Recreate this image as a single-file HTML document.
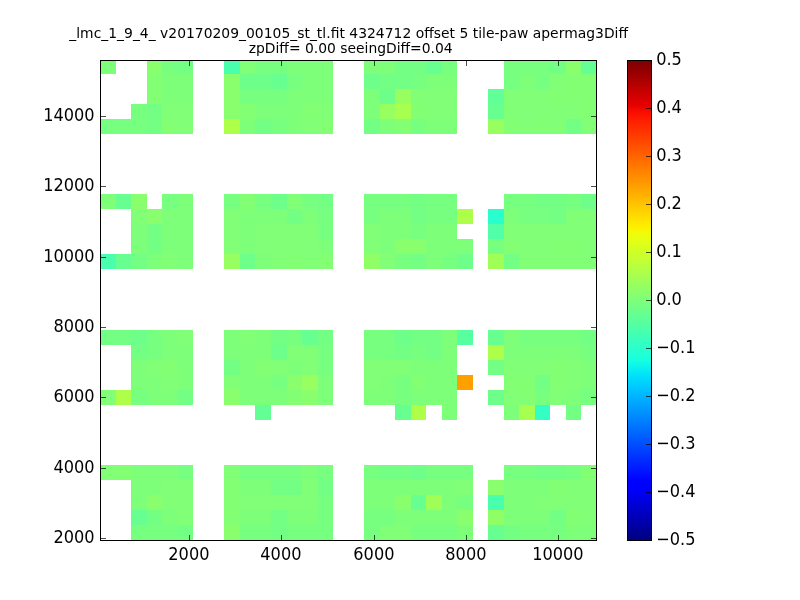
<!DOCTYPE html>
<html><head><meta charset="utf-8"><title>plot</title>
<style>html,body{margin:0;padding:0;background:#fff;}svg{display:block;}svg{will-change:transform;}text{font-family:"DejaVu Sans","Liberation Sans",sans-serif;fill:#000;}</style></head><body>
<svg width="800" height="600" viewBox="0 0 800 600">
<rect x="0" y="0" width="800" height="600" fill="#fff"/>
<g shape-rendering="crispEdges">
<rect x="100.50" y="60.50" width="15.50" height="13.50" fill="#7dff7a"/>
<rect x="147.00" y="60.50" width="15.00" height="13.50" fill="#8aff6d"/>
<rect x="162.00" y="60.50" width="16.00" height="13.50" fill="#77ff80"/>
<rect x="178.00" y="60.50" width="15.00" height="13.50" fill="#73ff83"/>
<rect x="224.00" y="60.50" width="16.00" height="13.50" fill="#49ffad"/>
<rect x="240.00" y="60.50" width="15.00" height="13.50" fill="#80ff77"/>
<rect x="255.00" y="60.50" width="32.00" height="13.50" fill="#77ff80"/>
<rect x="287.00" y="60.50" width="46.00" height="13.50" fill="#7dff7a"/>
<rect x="364.00" y="60.50" width="31.00" height="13.50" fill="#7dff7a"/>
<rect x="395.00" y="60.50" width="31.00" height="13.50" fill="#73ff83"/>
<rect x="426.00" y="60.50" width="16.00" height="13.50" fill="#66ff90"/>
<rect x="442.00" y="60.50" width="15.00" height="13.50" fill="#77ff80"/>
<rect x="504.00" y="60.50" width="46.00" height="13.50" fill="#77ff80"/>
<rect x="550.00" y="60.50" width="16.00" height="13.50" fill="#73ff83"/>
<rect x="566.00" y="60.50" width="15.00" height="13.50" fill="#8aff6d"/>
<rect x="581.00" y="60.50" width="15.50" height="13.50" fill="#63ff94"/>
<rect x="147.00" y="74.00" width="15.00" height="15.00" fill="#83ff73"/>
<rect x="162.00" y="74.00" width="31.00" height="15.00" fill="#7dff7a"/>
<rect x="224.00" y="74.00" width="16.00" height="15.00" fill="#8aff6d"/>
<rect x="240.00" y="74.00" width="31.00" height="15.00" fill="#6dff8a"/>
<rect x="271.00" y="74.00" width="16.00" height="15.00" fill="#66ff90"/>
<rect x="287.00" y="74.00" width="15.00" height="15.00" fill="#77ff80"/>
<rect x="302.00" y="74.00" width="31.00" height="15.00" fill="#7dff7a"/>
<rect x="364.00" y="74.00" width="16.00" height="15.00" fill="#6dff8a"/>
<rect x="380.00" y="74.00" width="31.00" height="15.00" fill="#73ff83"/>
<rect x="411.00" y="74.00" width="15.00" height="15.00" fill="#77ff80"/>
<rect x="426.00" y="74.00" width="31.00" height="15.00" fill="#7dff7a"/>
<rect x="504.00" y="74.00" width="15.00" height="15.00" fill="#77ff80"/>
<rect x="519.00" y="74.00" width="16.00" height="15.00" fill="#7dff7a"/>
<rect x="535.00" y="74.00" width="15.00" height="15.00" fill="#77ff80"/>
<rect x="550.00" y="74.00" width="16.00" height="15.00" fill="#80ff77"/>
<rect x="566.00" y="74.00" width="30.50" height="15.00" fill="#83ff73"/>
<rect x="147.00" y="89.00" width="15.00" height="15.00" fill="#83ff73"/>
<rect x="162.00" y="89.00" width="31.00" height="15.00" fill="#7dff7a"/>
<rect x="224.00" y="89.00" width="16.00" height="15.00" fill="#8aff6d"/>
<rect x="240.00" y="89.00" width="47.00" height="15.00" fill="#77ff80"/>
<rect x="287.00" y="89.00" width="46.00" height="15.00" fill="#7dff7a"/>
<rect x="364.00" y="89.00" width="16.00" height="15.00" fill="#7dff7a"/>
<rect x="380.00" y="89.00" width="15.00" height="15.00" fill="#6dff8a"/>
<rect x="395.00" y="89.00" width="16.00" height="15.00" fill="#97ff60"/>
<rect x="411.00" y="89.00" width="46.00" height="15.00" fill="#80ff77"/>
<rect x="488.00" y="89.00" width="16.00" height="15.00" fill="#60ff97"/>
<rect x="504.00" y="89.00" width="46.00" height="15.00" fill="#80ff77"/>
<rect x="550.00" y="89.00" width="46.50" height="15.00" fill="#83ff73"/>
<rect x="131.00" y="104.00" width="16.00" height="15.00" fill="#77ff80"/>
<rect x="147.00" y="104.00" width="15.00" height="15.00" fill="#73ff83"/>
<rect x="162.00" y="104.00" width="31.00" height="15.00" fill="#80ff77"/>
<rect x="224.00" y="104.00" width="16.00" height="15.00" fill="#8aff6d"/>
<rect x="240.00" y="104.00" width="15.00" height="15.00" fill="#83ff73"/>
<rect x="255.00" y="104.00" width="47.00" height="15.00" fill="#7dff7a"/>
<rect x="302.00" y="104.00" width="16.00" height="15.00" fill="#83ff73"/>
<rect x="318.00" y="104.00" width="15.00" height="15.00" fill="#80ff77"/>
<rect x="364.00" y="104.00" width="16.00" height="15.00" fill="#7dff7a"/>
<rect x="380.00" y="104.00" width="15.00" height="15.00" fill="#97ff60"/>
<rect x="395.00" y="104.00" width="16.00" height="15.00" fill="#a7ff50"/>
<rect x="411.00" y="104.00" width="15.00" height="15.00" fill="#83ff73"/>
<rect x="426.00" y="104.00" width="31.00" height="15.00" fill="#80ff77"/>
<rect x="488.00" y="104.00" width="16.00" height="15.00" fill="#66ff90"/>
<rect x="504.00" y="104.00" width="77.00" height="15.00" fill="#80ff77"/>
<rect x="581.00" y="104.00" width="15.50" height="15.00" fill="#83ff73"/>
<rect x="100.50" y="119.00" width="46.50" height="15.00" fill="#77ff80"/>
<rect x="147.00" y="119.00" width="15.00" height="15.00" fill="#73ff83"/>
<rect x="162.00" y="119.00" width="16.00" height="15.00" fill="#83ff73"/>
<rect x="178.00" y="119.00" width="15.00" height="15.00" fill="#80ff77"/>
<rect x="224.00" y="119.00" width="16.00" height="15.00" fill="#adff49"/>
<rect x="240.00" y="119.00" width="15.00" height="15.00" fill="#7dff7a"/>
<rect x="255.00" y="119.00" width="16.00" height="15.00" fill="#73ff83"/>
<rect x="271.00" y="119.00" width="16.00" height="15.00" fill="#77ff80"/>
<rect x="287.00" y="119.00" width="15.00" height="15.00" fill="#7dff7a"/>
<rect x="302.00" y="119.00" width="16.00" height="15.00" fill="#80ff77"/>
<rect x="318.00" y="119.00" width="15.00" height="15.00" fill="#83ff73"/>
<rect x="364.00" y="119.00" width="16.00" height="15.00" fill="#73ff83"/>
<rect x="380.00" y="119.00" width="15.00" height="15.00" fill="#7dff7a"/>
<rect x="395.00" y="119.00" width="16.00" height="15.00" fill="#83ff73"/>
<rect x="411.00" y="119.00" width="15.00" height="15.00" fill="#77ff80"/>
<rect x="426.00" y="119.00" width="31.00" height="15.00" fill="#7dff7a"/>
<rect x="488.00" y="119.00" width="16.00" height="15.00" fill="#97ff60"/>
<rect x="504.00" y="119.00" width="15.00" height="15.00" fill="#83ff73"/>
<rect x="519.00" y="119.00" width="16.00" height="15.00" fill="#80ff77"/>
<rect x="535.00" y="119.00" width="15.00" height="15.00" fill="#83ff73"/>
<rect x="550.00" y="119.00" width="16.00" height="15.00" fill="#80ff77"/>
<rect x="566.00" y="119.00" width="15.00" height="15.00" fill="#73ff83"/>
<rect x="581.00" y="119.00" width="15.50" height="15.00" fill="#80ff77"/>
<rect x="100.50" y="194.00" width="15.50" height="15.00" fill="#7dff7a"/>
<rect x="116.00" y="194.00" width="15.00" height="15.00" fill="#66ff90"/>
<rect x="131.00" y="194.00" width="16.00" height="15.00" fill="#8aff6d"/>
<rect x="162.00" y="194.00" width="16.00" height="15.00" fill="#77ff80"/>
<rect x="178.00" y="194.00" width="15.00" height="15.00" fill="#7dff7a"/>
<rect x="224.00" y="194.00" width="16.00" height="15.00" fill="#77ff80"/>
<rect x="240.00" y="194.00" width="15.00" height="15.00" fill="#83ff73"/>
<rect x="255.00" y="194.00" width="16.00" height="15.00" fill="#77ff80"/>
<rect x="271.00" y="194.00" width="16.00" height="15.00" fill="#6dff8a"/>
<rect x="287.00" y="194.00" width="15.00" height="15.00" fill="#80ff77"/>
<rect x="302.00" y="194.00" width="16.00" height="15.00" fill="#77ff80"/>
<rect x="318.00" y="194.00" width="15.00" height="15.00" fill="#73ff83"/>
<rect x="364.00" y="194.00" width="47.00" height="15.00" fill="#77ff80"/>
<rect x="411.00" y="194.00" width="15.00" height="15.00" fill="#73ff83"/>
<rect x="426.00" y="194.00" width="31.00" height="15.00" fill="#77ff80"/>
<rect x="504.00" y="194.00" width="31.00" height="15.00" fill="#77ff80"/>
<rect x="535.00" y="194.00" width="31.00" height="15.00" fill="#73ff83"/>
<rect x="566.00" y="194.00" width="15.00" height="15.00" fill="#77ff80"/>
<rect x="581.00" y="194.00" width="15.50" height="15.00" fill="#6dff8a"/>
<rect x="131.00" y="209.00" width="16.00" height="15.00" fill="#80ff77"/>
<rect x="147.00" y="209.00" width="15.00" height="15.00" fill="#8aff6d"/>
<rect x="162.00" y="209.00" width="31.00" height="15.00" fill="#7dff7a"/>
<rect x="224.00" y="209.00" width="16.00" height="15.00" fill="#80ff77"/>
<rect x="240.00" y="209.00" width="47.00" height="15.00" fill="#7dff7a"/>
<rect x="287.00" y="209.00" width="15.00" height="15.00" fill="#73ff83"/>
<rect x="302.00" y="209.00" width="16.00" height="15.00" fill="#7dff7a"/>
<rect x="318.00" y="209.00" width="15.00" height="15.00" fill="#77ff80"/>
<rect x="364.00" y="209.00" width="16.00" height="15.00" fill="#77ff80"/>
<rect x="380.00" y="209.00" width="31.00" height="15.00" fill="#7dff7a"/>
<rect x="411.00" y="209.00" width="15.00" height="15.00" fill="#73ff83"/>
<rect x="426.00" y="209.00" width="31.00" height="15.00" fill="#77ff80"/>
<rect x="457.00" y="209.00" width="16.00" height="15.00" fill="#adff49"/>
<rect x="488.00" y="209.00" width="16.00" height="15.00" fill="#29ffce"/>
<rect x="504.00" y="209.00" width="15.00" height="15.00" fill="#7dff7a"/>
<rect x="519.00" y="209.00" width="31.00" height="15.00" fill="#77ff80"/>
<rect x="550.00" y="209.00" width="16.00" height="15.00" fill="#73ff83"/>
<rect x="566.00" y="209.00" width="30.50" height="15.00" fill="#80ff77"/>
<rect x="131.00" y="224.00" width="16.00" height="15.00" fill="#7dff7a"/>
<rect x="147.00" y="224.00" width="15.00" height="15.00" fill="#73ff83"/>
<rect x="162.00" y="224.00" width="31.00" height="15.00" fill="#7dff7a"/>
<rect x="224.00" y="224.00" width="16.00" height="15.00" fill="#80ff77"/>
<rect x="240.00" y="224.00" width="15.00" height="15.00" fill="#7dff7a"/>
<rect x="255.00" y="224.00" width="63.00" height="15.00" fill="#80ff77"/>
<rect x="318.00" y="224.00" width="15.00" height="15.00" fill="#77ff80"/>
<rect x="364.00" y="224.00" width="16.00" height="15.00" fill="#80ff77"/>
<rect x="380.00" y="224.00" width="31.00" height="15.00" fill="#7dff7a"/>
<rect x="411.00" y="224.00" width="15.00" height="15.00" fill="#77ff80"/>
<rect x="426.00" y="224.00" width="31.00" height="15.00" fill="#7dff7a"/>
<rect x="488.00" y="224.00" width="16.00" height="15.00" fill="#50ffa7"/>
<rect x="504.00" y="224.00" width="92.50" height="15.00" fill="#80ff77"/>
<rect x="131.00" y="239.00" width="16.00" height="15.00" fill="#7dff7a"/>
<rect x="147.00" y="239.00" width="15.00" height="15.00" fill="#73ff83"/>
<rect x="162.00" y="239.00" width="31.00" height="15.00" fill="#7dff7a"/>
<rect x="224.00" y="239.00" width="16.00" height="15.00" fill="#80ff77"/>
<rect x="240.00" y="239.00" width="15.00" height="15.00" fill="#7dff7a"/>
<rect x="255.00" y="239.00" width="63.00" height="15.00" fill="#80ff77"/>
<rect x="318.00" y="239.00" width="15.00" height="15.00" fill="#7dff7a"/>
<rect x="364.00" y="239.00" width="16.00" height="15.00" fill="#80ff77"/>
<rect x="380.00" y="239.00" width="15.00" height="15.00" fill="#7dff7a"/>
<rect x="395.00" y="239.00" width="31.00" height="15.00" fill="#8aff6d"/>
<rect x="426.00" y="239.00" width="47.00" height="15.00" fill="#7dff7a"/>
<rect x="488.00" y="239.00" width="16.00" height="15.00" fill="#77ff80"/>
<rect x="504.00" y="239.00" width="15.00" height="15.00" fill="#83ff73"/>
<rect x="519.00" y="239.00" width="31.00" height="15.00" fill="#80ff77"/>
<rect x="550.00" y="239.00" width="31.00" height="15.00" fill="#83ff73"/>
<rect x="581.00" y="239.00" width="15.50" height="15.00" fill="#80ff77"/>
<rect x="100.50" y="254.00" width="15.50" height="15.00" fill="#49ffad"/>
<rect x="116.00" y="254.00" width="15.00" height="15.00" fill="#66ff90"/>
<rect x="131.00" y="254.00" width="16.00" height="15.00" fill="#73ff83"/>
<rect x="147.00" y="254.00" width="15.00" height="15.00" fill="#7dff7a"/>
<rect x="162.00" y="254.00" width="16.00" height="15.00" fill="#80ff77"/>
<rect x="178.00" y="254.00" width="15.00" height="15.00" fill="#7dff7a"/>
<rect x="224.00" y="254.00" width="16.00" height="15.00" fill="#97ff60"/>
<rect x="240.00" y="254.00" width="15.00" height="15.00" fill="#6dff8a"/>
<rect x="255.00" y="254.00" width="16.00" height="15.00" fill="#7dff7a"/>
<rect x="271.00" y="254.00" width="16.00" height="15.00" fill="#80ff77"/>
<rect x="287.00" y="254.00" width="15.00" height="15.00" fill="#83ff73"/>
<rect x="302.00" y="254.00" width="16.00" height="15.00" fill="#80ff77"/>
<rect x="318.00" y="254.00" width="15.00" height="15.00" fill="#83ff73"/>
<rect x="364.00" y="254.00" width="16.00" height="15.00" fill="#90ff66"/>
<rect x="380.00" y="254.00" width="15.00" height="15.00" fill="#80ff77"/>
<rect x="395.00" y="254.00" width="16.00" height="15.00" fill="#77ff80"/>
<rect x="411.00" y="254.00" width="15.00" height="15.00" fill="#73ff83"/>
<rect x="426.00" y="254.00" width="16.00" height="15.00" fill="#7dff7a"/>
<rect x="442.00" y="254.00" width="15.00" height="15.00" fill="#77ff80"/>
<rect x="457.00" y="254.00" width="16.00" height="15.00" fill="#6dff8a"/>
<rect x="488.00" y="254.00" width="16.00" height="15.00" fill="#a0ff56"/>
<rect x="504.00" y="254.00" width="15.00" height="15.00" fill="#73ff83"/>
<rect x="519.00" y="254.00" width="77.50" height="15.00" fill="#80ff77"/>
<rect x="100.50" y="330.00" width="30.50" height="15.00" fill="#73ff83"/>
<rect x="131.00" y="330.00" width="16.00" height="15.00" fill="#6dff8a"/>
<rect x="147.00" y="330.00" width="15.00" height="15.00" fill="#77ff80"/>
<rect x="162.00" y="330.00" width="16.00" height="15.00" fill="#7dff7a"/>
<rect x="178.00" y="330.00" width="15.00" height="15.00" fill="#80ff77"/>
<rect x="224.00" y="330.00" width="16.00" height="15.00" fill="#7dff7a"/>
<rect x="240.00" y="330.00" width="15.00" height="15.00" fill="#80ff77"/>
<rect x="255.00" y="330.00" width="16.00" height="15.00" fill="#7dff7a"/>
<rect x="271.00" y="330.00" width="16.00" height="15.00" fill="#73ff83"/>
<rect x="287.00" y="330.00" width="15.00" height="15.00" fill="#77ff80"/>
<rect x="302.00" y="330.00" width="16.00" height="15.00" fill="#66ff90"/>
<rect x="318.00" y="330.00" width="15.00" height="15.00" fill="#73ff83"/>
<rect x="364.00" y="330.00" width="31.00" height="15.00" fill="#77ff80"/>
<rect x="395.00" y="330.00" width="16.00" height="15.00" fill="#6dff8a"/>
<rect x="411.00" y="330.00" width="31.00" height="15.00" fill="#73ff83"/>
<rect x="442.00" y="330.00" width="15.00" height="15.00" fill="#7dff7a"/>
<rect x="457.00" y="330.00" width="16.00" height="15.00" fill="#56ffa0"/>
<rect x="488.00" y="330.00" width="16.00" height="15.00" fill="#66ff90"/>
<rect x="504.00" y="330.00" width="15.00" height="15.00" fill="#7dff7a"/>
<rect x="519.00" y="330.00" width="62.00" height="15.00" fill="#77ff80"/>
<rect x="581.00" y="330.00" width="15.50" height="15.00" fill="#73ff83"/>
<rect x="131.00" y="345.00" width="16.00" height="15.00" fill="#73ff83"/>
<rect x="147.00" y="345.00" width="15.00" height="15.00" fill="#77ff80"/>
<rect x="162.00" y="345.00" width="31.00" height="15.00" fill="#7dff7a"/>
<rect x="224.00" y="345.00" width="47.00" height="15.00" fill="#7dff7a"/>
<rect x="271.00" y="345.00" width="16.00" height="15.00" fill="#6dff8a"/>
<rect x="287.00" y="345.00" width="31.00" height="15.00" fill="#80ff77"/>
<rect x="318.00" y="345.00" width="15.00" height="15.00" fill="#77ff80"/>
<rect x="364.00" y="345.00" width="31.00" height="15.00" fill="#77ff80"/>
<rect x="395.00" y="345.00" width="16.00" height="15.00" fill="#73ff83"/>
<rect x="411.00" y="345.00" width="15.00" height="15.00" fill="#77ff80"/>
<rect x="426.00" y="345.00" width="16.00" height="15.00" fill="#73ff83"/>
<rect x="442.00" y="345.00" width="15.00" height="15.00" fill="#7dff7a"/>
<rect x="488.00" y="345.00" width="16.00" height="15.00" fill="#adff49"/>
<rect x="504.00" y="345.00" width="77.00" height="15.00" fill="#7dff7a"/>
<rect x="581.00" y="345.00" width="15.50" height="15.00" fill="#77ff80"/>
<rect x="131.00" y="360.00" width="16.00" height="15.00" fill="#7dff7a"/>
<rect x="147.00" y="360.00" width="15.00" height="15.00" fill="#80ff77"/>
<rect x="162.00" y="360.00" width="16.00" height="15.00" fill="#83ff73"/>
<rect x="178.00" y="360.00" width="15.00" height="15.00" fill="#7dff7a"/>
<rect x="224.00" y="360.00" width="16.00" height="15.00" fill="#73ff83"/>
<rect x="240.00" y="360.00" width="15.00" height="15.00" fill="#7dff7a"/>
<rect x="255.00" y="360.00" width="16.00" height="15.00" fill="#83ff73"/>
<rect x="271.00" y="360.00" width="16.00" height="15.00" fill="#80ff77"/>
<rect x="287.00" y="360.00" width="15.00" height="15.00" fill="#7dff7a"/>
<rect x="302.00" y="360.00" width="16.00" height="15.00" fill="#80ff77"/>
<rect x="318.00" y="360.00" width="15.00" height="15.00" fill="#77ff80"/>
<rect x="364.00" y="360.00" width="47.00" height="15.00" fill="#80ff77"/>
<rect x="411.00" y="360.00" width="46.00" height="15.00" fill="#7dff7a"/>
<rect x="488.00" y="360.00" width="16.00" height="15.00" fill="#73ff83"/>
<rect x="504.00" y="360.00" width="46.00" height="15.00" fill="#80ff77"/>
<rect x="550.00" y="360.00" width="16.00" height="15.00" fill="#83ff73"/>
<rect x="566.00" y="360.00" width="15.00" height="15.00" fill="#80ff77"/>
<rect x="581.00" y="360.00" width="15.50" height="15.00" fill="#7dff7a"/>
<rect x="131.00" y="375.00" width="31.00" height="15.00" fill="#7dff7a"/>
<rect x="162.00" y="375.00" width="16.00" height="15.00" fill="#80ff77"/>
<rect x="178.00" y="375.00" width="15.00" height="15.00" fill="#7dff7a"/>
<rect x="224.00" y="375.00" width="16.00" height="15.00" fill="#80ff77"/>
<rect x="240.00" y="375.00" width="31.00" height="15.00" fill="#7dff7a"/>
<rect x="271.00" y="375.00" width="16.00" height="15.00" fill="#77ff80"/>
<rect x="287.00" y="375.00" width="15.00" height="15.00" fill="#8aff6d"/>
<rect x="302.00" y="375.00" width="16.00" height="15.00" fill="#97ff60"/>
<rect x="318.00" y="375.00" width="15.00" height="15.00" fill="#7dff7a"/>
<rect x="364.00" y="375.00" width="16.00" height="15.00" fill="#80ff77"/>
<rect x="380.00" y="375.00" width="15.00" height="15.00" fill="#7dff7a"/>
<rect x="395.00" y="375.00" width="16.00" height="15.00" fill="#77ff80"/>
<rect x="411.00" y="375.00" width="15.00" height="15.00" fill="#83ff73"/>
<rect x="426.00" y="375.00" width="31.00" height="15.00" fill="#7dff7a"/>
<rect x="457.00" y="375.00" width="16.00" height="15.00" fill="#ff9f00"/>
<rect x="504.00" y="375.00" width="31.00" height="15.00" fill="#83ff73"/>
<rect x="535.00" y="375.00" width="15.00" height="15.00" fill="#73ff83"/>
<rect x="550.00" y="375.00" width="16.00" height="15.00" fill="#83ff73"/>
<rect x="566.00" y="375.00" width="15.00" height="15.00" fill="#80ff77"/>
<rect x="581.00" y="375.00" width="15.50" height="15.00" fill="#7dff7a"/>
<rect x="100.50" y="390.00" width="15.50" height="15.00" fill="#80ff77"/>
<rect x="116.00" y="390.00" width="15.00" height="15.00" fill="#adff49"/>
<rect x="131.00" y="390.00" width="16.00" height="15.00" fill="#77ff80"/>
<rect x="147.00" y="390.00" width="31.00" height="15.00" fill="#7dff7a"/>
<rect x="178.00" y="390.00" width="15.00" height="15.00" fill="#73ff83"/>
<rect x="224.00" y="390.00" width="16.00" height="15.00" fill="#8aff6d"/>
<rect x="240.00" y="390.00" width="47.00" height="15.00" fill="#7dff7a"/>
<rect x="287.00" y="390.00" width="15.00" height="15.00" fill="#83ff73"/>
<rect x="302.00" y="390.00" width="16.00" height="15.00" fill="#8aff6d"/>
<rect x="318.00" y="390.00" width="15.00" height="15.00" fill="#7dff7a"/>
<rect x="364.00" y="390.00" width="31.00" height="15.00" fill="#7dff7a"/>
<rect x="395.00" y="390.00" width="16.00" height="15.00" fill="#77ff80"/>
<rect x="411.00" y="390.00" width="46.00" height="15.00" fill="#7dff7a"/>
<rect x="488.00" y="390.00" width="16.00" height="15.00" fill="#6dff8a"/>
<rect x="504.00" y="390.00" width="15.00" height="15.00" fill="#80ff77"/>
<rect x="519.00" y="390.00" width="16.00" height="15.00" fill="#83ff73"/>
<rect x="535.00" y="390.00" width="15.00" height="15.00" fill="#77ff80"/>
<rect x="550.00" y="390.00" width="16.00" height="15.00" fill="#80ff77"/>
<rect x="566.00" y="390.00" width="15.00" height="15.00" fill="#7dff7a"/>
<rect x="581.00" y="390.00" width="15.50" height="15.00" fill="#77ff80"/>
<rect x="255.00" y="405.00" width="16.00" height="15.00" fill="#63ff94"/>
<rect x="395.00" y="405.00" width="16.00" height="15.00" fill="#66ff90"/>
<rect x="411.00" y="405.00" width="15.00" height="15.00" fill="#adff49"/>
<rect x="442.00" y="405.00" width="15.00" height="15.00" fill="#7dff7a"/>
<rect x="504.00" y="405.00" width="15.00" height="15.00" fill="#7dff7a"/>
<rect x="519.00" y="405.00" width="16.00" height="15.00" fill="#a7ff50"/>
<rect x="535.00" y="405.00" width="15.00" height="15.00" fill="#33ffc4"/>
<rect x="566.00" y="405.00" width="15.00" height="15.00" fill="#73ff83"/>
<rect x="100.50" y="465.00" width="15.50" height="15.00" fill="#80ff77"/>
<rect x="116.00" y="465.00" width="15.00" height="15.00" fill="#83ff73"/>
<rect x="131.00" y="465.00" width="47.00" height="15.00" fill="#7dff7a"/>
<rect x="178.00" y="465.00" width="15.00" height="15.00" fill="#77ff80"/>
<rect x="224.00" y="465.00" width="16.00" height="15.00" fill="#80ff77"/>
<rect x="240.00" y="465.00" width="62.00" height="15.00" fill="#77ff80"/>
<rect x="302.00" y="465.00" width="16.00" height="15.00" fill="#7dff7a"/>
<rect x="318.00" y="465.00" width="15.00" height="15.00" fill="#77ff80"/>
<rect x="364.00" y="465.00" width="16.00" height="15.00" fill="#77ff80"/>
<rect x="380.00" y="465.00" width="31.00" height="15.00" fill="#73ff83"/>
<rect x="411.00" y="465.00" width="15.00" height="15.00" fill="#6dff8a"/>
<rect x="426.00" y="465.00" width="47.00" height="15.00" fill="#77ff80"/>
<rect x="504.00" y="465.00" width="31.00" height="15.00" fill="#77ff80"/>
<rect x="535.00" y="465.00" width="31.00" height="15.00" fill="#73ff83"/>
<rect x="566.00" y="465.00" width="15.00" height="15.00" fill="#77ff80"/>
<rect x="581.00" y="465.00" width="15.50" height="15.00" fill="#83ff73"/>
<rect x="131.00" y="480.00" width="31.00" height="15.00" fill="#7dff7a"/>
<rect x="162.00" y="480.00" width="31.00" height="15.00" fill="#80ff77"/>
<rect x="224.00" y="480.00" width="16.00" height="15.00" fill="#83ff73"/>
<rect x="240.00" y="480.00" width="31.00" height="15.00" fill="#7dff7a"/>
<rect x="271.00" y="480.00" width="31.00" height="15.00" fill="#73ff83"/>
<rect x="302.00" y="480.00" width="16.00" height="15.00" fill="#80ff77"/>
<rect x="318.00" y="480.00" width="15.00" height="15.00" fill="#73ff83"/>
<rect x="364.00" y="480.00" width="93.00" height="15.00" fill="#7dff7a"/>
<rect x="457.00" y="480.00" width="16.00" height="15.00" fill="#80ff77"/>
<rect x="488.00" y="480.00" width="16.00" height="15.00" fill="#8aff6d"/>
<rect x="504.00" y="480.00" width="46.00" height="15.00" fill="#7dff7a"/>
<rect x="550.00" y="480.00" width="16.00" height="15.00" fill="#83ff73"/>
<rect x="566.00" y="480.00" width="30.50" height="15.00" fill="#80ff77"/>
<rect x="131.00" y="495.00" width="16.00" height="15.00" fill="#7dff7a"/>
<rect x="147.00" y="495.00" width="15.00" height="15.00" fill="#8aff6d"/>
<rect x="162.00" y="495.00" width="31.00" height="15.00" fill="#80ff77"/>
<rect x="224.00" y="495.00" width="16.00" height="15.00" fill="#83ff73"/>
<rect x="240.00" y="495.00" width="78.00" height="15.00" fill="#80ff77"/>
<rect x="318.00" y="495.00" width="15.00" height="15.00" fill="#77ff80"/>
<rect x="364.00" y="495.00" width="31.00" height="15.00" fill="#7dff7a"/>
<rect x="395.00" y="495.00" width="16.00" height="15.00" fill="#8aff6d"/>
<rect x="411.00" y="495.00" width="15.00" height="15.00" fill="#66ff90"/>
<rect x="426.00" y="495.00" width="16.00" height="15.00" fill="#a0ff56"/>
<rect x="442.00" y="495.00" width="15.00" height="15.00" fill="#7dff7a"/>
<rect x="457.00" y="495.00" width="16.00" height="15.00" fill="#77ff80"/>
<rect x="488.00" y="495.00" width="16.00" height="15.00" fill="#49ffad"/>
<rect x="504.00" y="495.00" width="31.00" height="15.00" fill="#7dff7a"/>
<rect x="535.00" y="495.00" width="61.50" height="15.00" fill="#80ff77"/>
<rect x="131.00" y="510.00" width="16.00" height="15.00" fill="#66ff90"/>
<rect x="147.00" y="510.00" width="15.00" height="15.00" fill="#73ff83"/>
<rect x="162.00" y="510.00" width="16.00" height="15.00" fill="#7dff7a"/>
<rect x="178.00" y="510.00" width="15.00" height="15.00" fill="#80ff77"/>
<rect x="224.00" y="510.00" width="16.00" height="15.00" fill="#83ff73"/>
<rect x="240.00" y="510.00" width="31.00" height="15.00" fill="#7dff7a"/>
<rect x="271.00" y="510.00" width="16.00" height="15.00" fill="#73ff83"/>
<rect x="287.00" y="510.00" width="31.00" height="15.00" fill="#7dff7a"/>
<rect x="318.00" y="510.00" width="15.00" height="15.00" fill="#77ff80"/>
<rect x="364.00" y="510.00" width="31.00" height="15.00" fill="#77ff80"/>
<rect x="395.00" y="510.00" width="62.00" height="15.00" fill="#7dff7a"/>
<rect x="457.00" y="510.00" width="16.00" height="15.00" fill="#8aff6d"/>
<rect x="488.00" y="510.00" width="16.00" height="15.00" fill="#90ff66"/>
<rect x="504.00" y="510.00" width="46.00" height="15.00" fill="#7dff7a"/>
<rect x="550.00" y="510.00" width="16.00" height="15.00" fill="#73ff83"/>
<rect x="566.00" y="510.00" width="15.00" height="15.00" fill="#83ff73"/>
<rect x="581.00" y="510.00" width="15.50" height="15.00" fill="#80ff77"/>
<rect x="131.00" y="525.00" width="47.00" height="15.50" fill="#77ff80"/>
<rect x="178.00" y="525.00" width="15.00" height="15.50" fill="#73ff83"/>
<rect x="224.00" y="525.00" width="16.00" height="15.50" fill="#8aff6d"/>
<rect x="240.00" y="525.00" width="31.00" height="15.50" fill="#77ff80"/>
<rect x="271.00" y="525.00" width="16.00" height="15.50" fill="#73ff83"/>
<rect x="287.00" y="525.00" width="46.00" height="15.50" fill="#77ff80"/>
<rect x="364.00" y="525.00" width="16.00" height="15.50" fill="#77ff80"/>
<rect x="380.00" y="525.00" width="31.00" height="15.50" fill="#80ff77"/>
<rect x="411.00" y="525.00" width="46.00" height="15.50" fill="#77ff80"/>
<rect x="457.00" y="525.00" width="16.00" height="15.50" fill="#7dff7a"/>
<rect x="488.00" y="525.00" width="16.00" height="15.50" fill="#66ff90"/>
<rect x="504.00" y="525.00" width="15.00" height="15.50" fill="#73ff83"/>
<rect x="519.00" y="525.00" width="47.00" height="15.50" fill="#77ff80"/>
<rect x="566.00" y="525.00" width="30.50" height="15.50" fill="#7dff7a"/>
</g>
<defs><linearGradient id="jet" x1="0" y1="0" x2="0" y2="1"><stop offset="0.0000" stop-color="#800000"/><stop offset="0.0156" stop-color="#8d0000"/><stop offset="0.0312" stop-color="#9f0000"/><stop offset="0.0469" stop-color="#b20000"/><stop offset="0.0625" stop-color="#c40000"/><stop offset="0.0781" stop-color="#d60000"/><stop offset="0.0938" stop-color="#e80000"/><stop offset="0.1094" stop-color="#fa0f00"/><stop offset="0.1250" stop-color="#ff1e00"/><stop offset="0.1406" stop-color="#ff2d00"/><stop offset="0.1562" stop-color="#ff3b00"/><stop offset="0.1719" stop-color="#ff4a00"/><stop offset="0.1875" stop-color="#ff5900"/><stop offset="0.2031" stop-color="#ff6800"/><stop offset="0.2188" stop-color="#ff7700"/><stop offset="0.2344" stop-color="#ff8600"/><stop offset="0.2500" stop-color="#ff9400"/><stop offset="0.2656" stop-color="#ffa300"/><stop offset="0.2812" stop-color="#ffb200"/><stop offset="0.2969" stop-color="#ffc100"/><stop offset="0.3125" stop-color="#ffd000"/><stop offset="0.3281" stop-color="#ffde00"/><stop offset="0.3438" stop-color="#feed00"/><stop offset="0.3594" stop-color="#f1fc06"/><stop offset="0.3750" stop-color="#e4ff13"/><stop offset="0.3906" stop-color="#d7ff1f"/><stop offset="0.4062" stop-color="#caff2c"/><stop offset="0.4219" stop-color="#beff39"/><stop offset="0.4375" stop-color="#b1ff46"/><stop offset="0.4531" stop-color="#a4ff53"/><stop offset="0.4688" stop-color="#97ff60"/><stop offset="0.4844" stop-color="#8aff6d"/><stop offset="0.5000" stop-color="#7dff7a"/><stop offset="0.5156" stop-color="#70ff87"/><stop offset="0.5312" stop-color="#63ff94"/><stop offset="0.5469" stop-color="#56ffa0"/><stop offset="0.5625" stop-color="#49ffad"/><stop offset="0.5781" stop-color="#3cffba"/><stop offset="0.5938" stop-color="#30ffc7"/><stop offset="0.6094" stop-color="#23ffd4"/><stop offset="0.6250" stop-color="#16ffe1"/><stop offset="0.6406" stop-color="#09f1ee"/><stop offset="0.6562" stop-color="#00e1fb"/><stop offset="0.6719" stop-color="#00d1ff"/><stop offset="0.6875" stop-color="#00c1ff"/><stop offset="0.7031" stop-color="#00b1ff"/><stop offset="0.7188" stop-color="#00a1ff"/><stop offset="0.7344" stop-color="#0091ff"/><stop offset="0.7500" stop-color="#0081ff"/><stop offset="0.7656" stop-color="#0071ff"/><stop offset="0.7812" stop-color="#0061ff"/><stop offset="0.7969" stop-color="#0051ff"/><stop offset="0.8125" stop-color="#0041ff"/><stop offset="0.8281" stop-color="#0031ff"/><stop offset="0.8438" stop-color="#0021ff"/><stop offset="0.8594" stop-color="#0011ff"/><stop offset="0.8750" stop-color="#0001ff"/><stop offset="0.8906" stop-color="#0000ff"/><stop offset="0.9062" stop-color="#0000ed"/><stop offset="0.9219" stop-color="#0000da"/><stop offset="0.9375" stop-color="#0000c8"/><stop offset="0.9531" stop-color="#0000b6"/><stop offset="0.9688" stop-color="#0000a4"/><stop offset="0.9844" stop-color="#000092"/><stop offset="1.0000" stop-color="#000080"/></linearGradient></defs>
<rect x="627.5" y="60.5" width="24" height="480" fill="url(#jet)" stroke="#000" stroke-width="1"/>
<rect x="100.5" y="60.5" width="496" height="480" fill="none" stroke="#000" stroke-width="1"/>
<path d="M189.50 540.5v-5.5M189.50 60.5v5.5M281.50 540.5v-5.5M281.50 60.5v5.5M374.50 540.5v-5.5M374.50 60.5v5.5M466.50 540.5v-5.5M466.50 60.5v5.5M558.50 540.5v-5.5M558.50 60.5v5.5M100.5 538.50h5.5M596.5 538.50h-5.5M100.5 468.50h5.5M596.5 468.50h-5.5M100.5 397.50h5.5M596.5 397.50h-5.5M100.5 327.50h5.5M596.5 327.50h-5.5M100.5 257.50h5.5M596.5 257.50h-5.5M100.5 186.50h5.5M596.5 186.50h-5.5M100.5 116.50h5.5M596.5 116.50h-5.5M651.5 108.50h-5.5M651.5 156.50h-5.5M651.5 204.50h-5.5M651.5 252.50h-5.5M651.5 300.50h-5.5M651.5 348.50h-5.5M651.5 396.50h-5.5M651.5 444.50h-5.5M651.5 492.50h-5.5" stroke="#000" stroke-width="0.7" fill="none"/>
<g font-size="16.67">
<text transform="translate(188.90 559.90) scale(0.970 1.070)" text-anchor="middle">2000</text>
<text transform="translate(280.90 559.90) scale(0.970 1.070)" text-anchor="middle">4000</text>
<text transform="translate(373.90 559.90) scale(0.970 1.070)" text-anchor="middle">6000</text>
<text transform="translate(465.90 559.90) scale(0.970 1.070)" text-anchor="middle">8000</text>
<text transform="translate(557.90 559.90) scale(0.970 1.070)" text-anchor="middle">10000</text>
<text transform="translate(94.60 542.80) scale(0.970 1.070)" text-anchor="end">2000</text>
<text transform="translate(94.60 472.80) scale(0.970 1.070)" text-anchor="end">4000</text>
<text transform="translate(94.60 401.80) scale(0.970 1.070)" text-anchor="end">6000</text>
<text transform="translate(94.60 331.80) scale(0.970 1.070)" text-anchor="end">8000</text>
<text transform="translate(94.60 261.80) scale(0.970 1.070)" text-anchor="end">10000</text>
<text transform="translate(94.60 190.80) scale(0.970 1.070)" text-anchor="end">12000</text>
<text transform="translate(94.60 120.80) scale(0.970 1.070)" text-anchor="end">14000</text>
<text transform="translate(656.20 65.00) scale(0.970 1.070)" text-anchor="start">0.5</text>
<text transform="translate(656.20 113.00) scale(0.970 1.070)" text-anchor="start">0.4</text>
<text transform="translate(656.20 161.00) scale(0.970 1.070)" text-anchor="start">0.3</text>
<text transform="translate(656.20 209.00) scale(0.970 1.070)" text-anchor="start">0.2</text>
<text transform="translate(656.20 257.00) scale(0.970 1.070)" text-anchor="start">0.1</text>
<text transform="translate(656.20 305.00) scale(0.970 1.070)" text-anchor="start">0.0</text>
<text transform="translate(656.20 353.00) scale(0.970 1.070)" text-anchor="start">−0.1</text>
<text transform="translate(656.20 401.00) scale(0.970 1.070)" text-anchor="start">−0.2</text>
<text transform="translate(656.20 449.00) scale(0.970 1.070)" text-anchor="start">−0.3</text>
<text transform="translate(656.20 497.00) scale(0.970 1.070)" text-anchor="start">−0.4</text>
<text transform="translate(656.20 545.00) scale(0.970 1.070)" text-anchor="start">−0.5</text>
</g>
<g font-size="13.89" text-anchor="middle">
<text x="348.65" y="37.5" textLength="558.8" lengthAdjust="spacing">_lmc_1_9_4_ v20170209_00105_st_tl.fit 4324712 offset 5 tile-paw apermag3Diff</text>
<text x="350.7" y="52.5">zpDiff= 0.00 seeingDiff=0.04</text>
</g>
</svg></body></html>
